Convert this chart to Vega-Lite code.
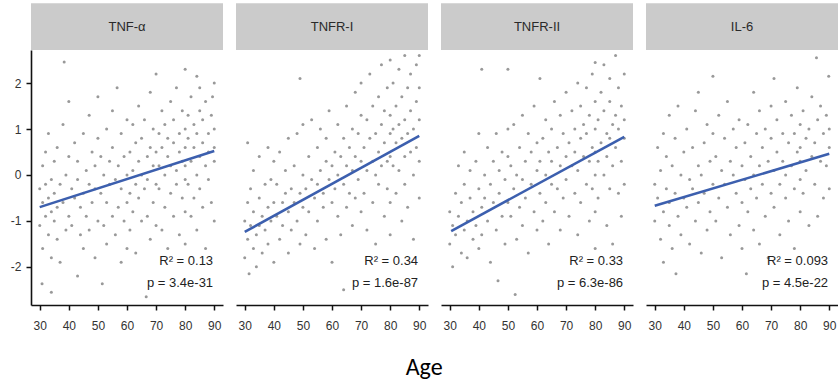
{
"$schema": "https://vega.github.io/schema/vega-lite/v6.json",
"padding": {"left": 10, "top": 3, "right": 0, "bottom": 0},
"background": "white",
"title": {"text": "Age", "orient": "bottom", "anchor": "middle", "font": "Carlito, Lato, Liberation Sans", "fontSize": 24, "fontWeight": "normal", "color": "#000", "offset": 25},
"datasets": {
"all": [
{"g":"TNF-α","k":"H"},{"g":"TNFR-I","k":"H"},{"g":"TNFR-II","k":"H"},{"g":"IL-6","k":"H"},
{"g":"TNF-α","k":"T","r":"R² = 0.13","p":"p = 3.4e-31"},
{"g":"TNFR-I","k":"T","r":"R² = 0.34","p":"p = 1.6e-87"},
{"g":"TNFR-II","k":"T","r":"R² = 0.33","p":"p = 6.3e-86"},
{"g":"IL-6","k":"T","r":"R² = 0.093","p":"p = 4.5e-22"},
{"g":"TNF-α","k":"L","a":30,"v":-0.70},{"g":"TNF-α","k":"L","a":90,"v":0.52},
{"g":"TNFR-I","k":"L","a":30,"v":-1.24},{"g":"TNFR-I","k":"L","a":90,"v":0.85},
{"g":"TNFR-II","k":"L","a":30.5,"v":-1.22},{"g":"TNFR-II","k":"L","a":90,"v":0.83},
{"g":"IL-6","k":"L","a":30,"v":-0.67},{"g":"IL-6","k":"L","a":90,"v":0.46},

{"g":"TNF-α","a":30,"v":-0.3},{"g":"TNF-α","a":30,"v":-1.1},{"g":"TNF-α","a":31,"v":-0.6},{"g":"TNF-α","a":31,"v":0.2},{"g":"TNF-α","a":31,"v":-1.6},{"g":"TNF-α","a":32,"v":-0.9},{"g":"TNF-α","a":32,"v":0.5},{"g":"TNF-α","a":32,"v":-0.2},{"g":"TNF-α","a":33,"v":-1.3},{"g":"TNF-α","a":33,"v":-0.5},{"g":"TNF-α","a":33,"v":0.9},{"g":"TNF-α","a":34,"v":-0.1},{"g":"TNF-α","a":34,"v":-1.8},{"g":"TNF-α","a":34,"v":-0.8},{"g":"TNF-α","a":35,"v":0.3},{"g":"TNF-α","a":35,"v":-1.0},{"g":"TNF-α","a":35,"v":-0.4},{"g":"TNF-α","a":36,"v":-1.4},{"g":"TNF-α","a":36,"v":0.6},{"g":"TNF-α","a":36,"v":-0.7},{"g":"TNF-α","a":37,"v":-0.2},{"g":"TNF-α","a":37,"v":-1.9},{"g":"TNF-α","a":38,"v":1.1},{"g":"TNF-α","a":38,"v":-0.6},{"g":"TNF-α","a":39,"v":-1.2},{"g":"TNF-α","a":39,"v":0.0},{"g":"TNF-α","a":40,"v":-0.9},{"g":"TNF-α","a":40,"v":0.4},{"g":"TNF-α","a":40,"v":1.6},{"g":"TNF-α","a":30.8,"v":-2.37},{"g":"TNF-α","a":34,"v":-2.55},{"g":"TNF-α","a":38.4,"v":2.46},
{"g":"TNF-α","a":41,"v":-0.3},{"g":"TNF-α","a":41,"v":-1.1},{"g":"TNF-α","a":42,"v":0.7},{"g":"TNF-α","a":42,"v":-0.5},{"g":"TNF-α","a":43,"v":-2.2},{"g":"TNF-α","a":43,"v":-0.1},{"g":"TNF-α","a":43,"v":0.3},{"g":"TNF-α","a":44,"v":-1.3},{"g":"TNF-α","a":44,"v":-0.7},{"g":"TNF-α","a":45,"v":0.9},{"g":"TNF-α","a":45,"v":-0.4},{"g":"TNF-α","a":45,"v":-1.6},{"g":"TNF-α","a":46,"v":0.1},{"g":"TNF-α","a":46,"v":-0.9},{"g":"TNF-α","a":47,"v":1.3},{"g":"TNF-α","a":47,"v":-0.2},{"g":"TNF-α","a":47,"v":-1.2},{"g":"TNF-α","a":48,"v":0.5},{"g":"TNF-α","a":48,"v":-0.6},{"g":"TNF-α","a":49,"v":-1.8},{"g":"TNF-α","a":49,"v":-0.3},{"g":"TNF-α","a":49,"v":0.2},{"g":"TNF-α","a":50,"v":-1.0},{"g":"TNF-α","a":50,"v":0.8},{"g":"TNF-α","a":50,"v":1.7},
{"g":"TNF-α","a":51,"v":-0.4},{"g":"TNF-α","a":51,"v":0.4},{"g":"TNF-α","a":51.5,"v":-2.37},{"g":"TNF-α","a":52,"v":-1.1},{"g":"TNF-α","a":52,"v":0.0},{"g":"TNF-α","a":53,"v":1.0},{"g":"TNF-α","a":53,"v":-0.6},{"g":"TNF-α","a":53,"v":-1.5},{"g":"TNF-α","a":54,"v":0.3},{"g":"TNF-α","a":54,"v":-0.2},{"g":"TNF-α","a":55,"v":-0.9},{"g":"TNF-α","a":55,"v":1.4},{"g":"TNF-α","a":55,"v":0.6},{"g":"TNF-α","a":56,"v":-0.1},{"g":"TNF-α","a":56,"v":-1.3},{"g":"TNF-α","a":56.6,"v":1.9},{"g":"TNF-α","a":57,"v":0.2},{"g":"TNF-α","a":57,"v":-0.7},{"g":"TNF-α","a":58,"v":-1.9},{"g":"TNF-α","a":58,"v":0.9},{"g":"TNF-α","a":58,"v":-0.3},{"g":"TNF-α","a":59,"v":0.4},{"g":"TNF-α","a":59,"v":-1.0},{"g":"TNF-α","a":60,"v":0.0},{"g":"TNF-α","a":60,"v":1.2},{"g":"TNF-α","a":60,"v":-0.6},{"g":"TNF-α","a":60,"v":-1.6},
{"g":"TNF-α","a":61,"v":0.5},{"g":"TNF-α","a":61,"v":-0.4},{"g":"TNF-α","a":61,"v":-1.2},{"g":"TNF-α","a":62,"v":0.1},{"g":"TNF-α","a":62,"v":1.1},{"g":"TNF-α","a":62,"v":-0.8},{"g":"TNF-α","a":63,"v":-0.2},{"g":"TNF-α","a":63,"v":0.7},{"g":"TNF-α","a":63,"v":-1.7},{"g":"TNF-α","a":64,"v":0.3},{"g":"TNF-α","a":64,"v":-0.5},{"g":"TNF-α","a":64,"v":1.5},{"g":"TNF-α","a":65,"v":-1.0},{"g":"TNF-α","a":65,"v":0.0},{"g":"TNF-α","a":65,"v":0.8},{"g":"TNF-α","a":66,"v":-0.3},{"g":"TNF-α","a":66,"v":1.2},{"g":"TNF-α","a":66.6,"v":-2.65},{"g":"TNF-α","a":67,"v":0.4},{"g":"TNF-α","a":67,"v":-0.9},{"g":"TNF-α","a":67,"v":-0.1},{"g":"TNF-α","a":68,"v":1.8},{"g":"TNF-α","a":68,"v":0.6},{"g":"TNF-α","a":68,"v":-1.4},{"g":"TNF-α","a":69,"v":0.2},{"g":"TNF-α","a":69,"v":-0.6},{"g":"TNF-α","a":69,"v":1.0},{"g":"TNF-α","a":70,"v":2.2},{"g":"TNF-α","a":70,"v":-0.2},{"g":"TNF-α","a":70,"v":0.5},{"g":"TNF-α","a":70,"v":-1.1},
{"g":"TNF-α","a":71,"v":0.9},{"g":"TNF-α","a":71,"v":-0.3},{"g":"TNF-α","a":71,"v":0.2},{"g":"TNF-α","a":72,"v":-1.2},{"g":"TNF-α","a":72,"v":0.6},{"g":"TNF-α","a":72,"v":1.4},{"g":"TNF-α","a":73,"v":0.0},{"g":"TNF-α","a":73,"v":-0.7},{"g":"TNF-α","a":73,"v":1.1},{"g":"TNF-α","a":74,"v":0.4},{"g":"TNF-α","a":74,"v":-1.6},{"g":"TNF-α","a":74,"v":0.8},{"g":"TNF-α","a":75,"v":1.6},{"g":"TNF-α","a":75,"v":-0.4},{"g":"TNF-α","a":75,"v":0.2},{"g":"TNF-α","a":76,"v":-0.9},{"g":"TNF-α","a":76,"v":0.7},{"g":"TNF-α","a":76,"v":1.2},{"g":"TNF-α","a":77,"v":0.1},{"g":"TNF-α","a":77,"v":-0.2},{"g":"TNF-α","a":77,"v":1.9},{"g":"TNF-α","a":78,"v":0.5},{"g":"TNF-α","a":78,"v":-1.3},{"g":"TNF-α","a":78,"v":0.9},{"g":"TNF-α","a":79,"v":-0.5},{"g":"TNF-α","a":79,"v":1.4},{"g":"TNF-α","a":79,"v":0.3},{"g":"TNF-α","a":80,"v":2.3},{"g":"TNF-α","a":80,"v":-0.1},{"g":"TNF-α","a":80,"v":0.6},{"g":"TNF-α","a":80,"v":1.0},{"g":"TNF-α","a":80,"v":-0.8},{"g":"TNF-α","a":80,"v":-1.5},{"g":"TNF-α","a":80,"v":0.2},
{"g":"TNF-α","a":81,"v":0.8},{"g":"TNF-α","a":81,"v":-0.2},{"g":"TNF-α","a":81,"v":1.3},{"g":"TNF-α","a":82,"v":0.3},{"g":"TNF-α","a":82,"v":-0.9},{"g":"TNF-α","a":82,"v":1.7},{"g":"TNF-α","a":83,"v":0.6},{"g":"TNF-α","a":83,"v":-0.5},{"g":"TNF-α","a":83,"v":1.1},{"g":"TNF-α","a":84,"v":2.15},{"g":"TNF-α","a":84,"v":0.0},{"g":"TNF-α","a":84,"v":0.9},{"g":"TNF-α","a":84,"v":-1.2},{"g":"TNF-α","a":85,"v":1.4},{"g":"TNF-α","a":85,"v":0.4},{"g":"TNF-α","a":85,"v":-0.3},{"g":"TNF-α","a":85,"v":1.9},{"g":"TNF-α","a":86,"v":0.7},{"g":"TNF-α","a":86,"v":-0.7},{"g":"TNF-α","a":86,"v":1.2},{"g":"TNF-α","a":87,"v":0.2},{"g":"TNF-α","a":87,"v":1.6},{"g":"TNF-α","a":87,"v":-1.6},{"g":"TNF-α","a":88,"v":0.9},{"g":"TNF-α","a":88,"v":-0.1},{"g":"TNF-α","a":88,"v":0.5},{"g":"TNF-α","a":89,"v":1.3},{"g":"TNF-α","a":89.4,"v":1.7},{"g":"TNF-α","a":89,"v":-0.6},{"g":"TNF-α","a":90,"v":0.3},{"g":"TNF-α","a":90,"v":1.0},{"g":"TNF-α","a":90,"v":-1.0},{"g":"TNF-α","a":90,"v":2.0},{"g":"TNF-α","a":90,"v":0.6},

{"g":"TNFR-I","a":30,"v":-1.0},{"g":"TNFR-I","a":30,"v":-1.8},{"g":"TNFR-I","a":31,"v":-0.6},{"g":"TNFR-I","a":31,"v":-1.4},{"g":"TNFR-I","a":31.5,"v":-2.15},{"g":"TNFR-I","a":31,"v":0.7},{"g":"TNFR-I","a":32,"v":-1.1},{"g":"TNFR-I","a":32,"v":-0.3},{"g":"TNFR-I","a":33,"v":-1.6},{"g":"TNFR-I","a":33,"v":-0.8},{"g":"TNFR-I","a":33,"v":0.1},{"g":"TNFR-I","a":34,"v":-1.3},{"g":"TNFR-I","a":34,"v":-2.0},{"g":"TNFR-I","a":35,"v":-0.5},{"g":"TNFR-I","a":35,"v":-1.1},{"g":"TNFR-I","a":35,"v":0.4},{"g":"TNFR-I","a":36,"v":-0.9},{"g":"TNFR-I","a":36,"v":-1.7},{"g":"TNFR-I","a":37,"v":-0.2},{"g":"TNFR-I","a":37,"v":-1.2},{"g":"TNFR-I","a":38,"v":-0.7},{"g":"TNFR-I","a":38,"v":0.6},{"g":"TNFR-I","a":38,"v":-1.5},{"g":"TNFR-I","a":39,"v":-1.0},{"g":"TNFR-I","a":39,"v":-0.1},{"g":"TNFR-I","a":40,"v":-0.6},{"g":"TNFR-I","a":40,"v":-1.9},{"g":"TNFR-I","a":40,"v":0.3},
{"g":"TNFR-I","a":41,"v":-0.9},{"g":"TNFR-I","a":41,"v":-0.2},{"g":"TNFR-I","a":42,"v":-1.4},{"g":"TNFR-I","a":42,"v":0.5},{"g":"TNFR-I","a":43,"v":-0.6},{"g":"TNFR-I","a":43,"v":-1.1},{"g":"TNFR-I","a":44,"v":0.1},{"g":"TNFR-I","a":44,"v":-0.4},{"g":"TNFR-I","a":45,"v":-1.7},{"g":"TNFR-I","a":45,"v":-0.8},{"g":"TNFR-I","a":45,"v":0.8},{"g":"TNFR-I","a":46,"v":-0.3},{"g":"TNFR-I","a":46,"v":-1.2},{"g":"TNFR-I","a":47,"v":0.2},{"g":"TNFR-I","a":47,"v":-0.6},{"g":"TNFR-I","a":48,"v":-1.0},{"g":"TNFR-I","a":48,"v":0.9},{"g":"TNFR-I","a":49,"v":2.1},{"g":"TNFR-I","a":49,"v":-0.4},{"g":"TNFR-I","a":49,"v":-1.5},{"g":"TNFR-I","a":50,"v":0.0},{"g":"TNFR-I","a":50,"v":-0.7},{"g":"TNFR-I","a":50,"v":1.1},
{"g":"TNFR-I","a":51,"v":-0.3},{"g":"TNFR-I","a":51,"v":-1.3},{"g":"TNFR-I","a":52,"v":0.4},{"g":"TNFR-I","a":52,"v":-0.8},{"g":"TNFR-I","a":53,"v":-0.1},{"g":"TNFR-I","a":53,"v":1.2},{"g":"TNFR-I","a":54,"v":-0.5},{"g":"TNFR-I","a":54,"v":-1.6},{"g":"TNFR-I","a":55,"v":0.6},{"g":"TNFR-I","a":55,"v":-0.2},{"g":"TNFR-I","a":55,"v":-1.0},{"g":"TNFR-I","a":56,"v":0.1},{"g":"TNFR-I","a":56,"v":1.0},{"g":"TNFR-I","a":57,"v":-0.7},{"g":"TNFR-I","a":57,"v":-0.4},{"g":"TNFR-I","a":58,"v":0.3},{"g":"TNFR-I","a":58,"v":-1.4},{"g":"TNFR-I","a":58,"v":0.8},{"g":"TNFR-I","a":59,"v":-0.1},{"g":"TNFR-I","a":59,"v":1.4},{"g":"TNFR-I","a":60,"v":-0.6},{"g":"TNFR-I","a":60,"v":0.2},{"g":"TNFR-I","a":60,"v":-1.9},
{"g":"TNFR-I","a":61,"v":0.5},{"g":"TNFR-I","a":61,"v":-0.3},{"g":"TNFR-I","a":62,"v":1.1},{"g":"TNFR-I","a":62,"v":-0.9},{"g":"TNFR-I","a":62,"v":0.0},{"g":"TNFR-I","a":63,"v":0.4},{"g":"TNFR-I","a":63,"v":-1.3},{"g":"TNFR-I","a":64,"v":-2.5},{"g":"TNFR-I","a":64,"v":0.8},{"g":"TNFR-I","a":64,"v":-0.2},{"g":"TNFR-I","a":65,"v":1.5},{"g":"TNFR-I","a":65,"v":0.2},{"g":"TNFR-I","a":65,"v":-0.7},{"g":"TNFR-I","a":66,"v":0.6},{"g":"TNFR-I","a":66,"v":-0.4},{"g":"TNFR-I","a":67,"v":1.0},{"g":"TNFR-I","a":67,"v":0.1},{"g":"TNFR-I","a":67,"v":-1.1},{"g":"TNFR-I","a":68,"v":1.8},{"g":"TNFR-I","a":68,"v":0.4},{"g":"TNFR-I","a":68,"v":-0.5},{"g":"TNFR-I","a":69,"v":0.9},{"g":"TNFR-I","a":69,"v":-0.1},{"g":"TNFR-I","a":70,"v":0.3},{"g":"TNFR-I","a":70,"v":1.3},{"g":"TNFR-I","a":70,"v":-0.8},{"g":"TNFR-I","a":70,"v":2.0},
{"g":"TNFR-I","a":71,"v":0.6},{"g":"TNFR-I","a":71,"v":-0.4},{"g":"TNFR-I","a":72,"v":1.2},{"g":"TNFR-I","a":72,"v":0.1},{"g":"TNFR-I","a":72,"v":-1.2},{"g":"TNFR-I","a":73,"v":0.8},{"g":"TNFR-I","a":73,"v":2.2},{"g":"TNFR-I","a":74,"v":0.3},{"g":"TNFR-I","a":74,"v":-0.6},{"g":"TNFR-I","a":74,"v":1.5},{"g":"TNFR-I","a":75,"v":0.0},{"g":"TNFR-I","a":75,"v":0.9},{"g":"TNFR-I","a":75,"v":-1.5},{"g":"TNFR-I","a":76,"v":1.7},{"g":"TNFR-I","a":76,"v":0.5},{"g":"TNFR-I","a":76,"v":-0.2},{"g":"TNFR-I","a":77,"v":1.1},{"g":"TNFR-I","a":77,"v":0.2},{"g":"TNFR-I","a":77,"v":2.4},{"g":"TNFR-I","a":78,"v":-0.9},{"g":"TNFR-I","a":78,"v":0.7},{"g":"TNFR-I","a":78,"v":1.4},{"g":"TNFR-I","a":79,"v":0.3},{"g":"TNFR-I","a":79,"v":-0.3},{"g":"TNFR-I","a":79,"v":1.9},{"g":"TNFR-I","a":80,"v":0.9},{"g":"TNFR-I","a":80,"v":2.5},{"g":"TNFR-I","a":80,"v":-0.6},{"g":"TNFR-I","a":80,"v":0.4},{"g":"TNFR-I","a":80,"v":1.3},{"g":"TNFR-I","a":80,"v":-1.3},
{"g":"TNFR-I","a":81,"v":1.0},{"g":"TNFR-I","a":81,"v":0.2},{"g":"TNFR-I","a":81,"v":2.0},{"g":"TNFR-I","a":82,"v":-0.4},{"g":"TNFR-I","a":82,"v":1.5},{"g":"TNFR-I","a":82,"v":0.7},{"g":"TNFR-I","a":83,"v":2.3},{"g":"TNFR-I","a":83,"v":0.1},{"g":"TNFR-I","a":83,"v":1.1},{"g":"TNFR-I","a":84,"v":-1.0},{"g":"TNFR-I","a":84,"v":0.8},{"g":"TNFR-I","a":84,"v":1.7},{"g":"TNFR-I","a":85,"v":0.4},{"g":"TNFR-I","a":85,"v":2.6},{"g":"TNFR-I","a":85,"v":1.2},{"g":"TNFR-I","a":85,"v":-0.2},{"g":"TNFR-I","a":86,"v":0.9},{"g":"TNFR-I","a":86,"v":1.9},{"g":"TNFR-I","a":86,"v":-0.7},{"g":"TNFR-I","a":87,"v":0.5},{"g":"TNFR-I","a":87,"v":1.4},{"g":"TNFR-I","a":87,"v":2.2},{"g":"TNFR-I","a":88,"v":0.0},{"g":"TNFR-I","a":88,"v":1.0},{"g":"TNFR-I","a":88,"v":-1.4},{"g":"TNFR-I","a":89,"v":1.6},{"g":"TNFR-I","a":89,"v":0.6},{"g":"TNFR-I","a":89,"v":2.4},{"g":"TNFR-I","a":90,"v":0.3},{"g":"TNFR-I","a":90,"v":1.2},{"g":"TNFR-I","a":90,"v":-0.5},{"g":"TNFR-I","a":90,"v":1.9},{"g":"TNFR-I","a":90,"v":2.6},

{"g":"TNFR-II","a":30,"v":-1.5},{"g":"TNFR-II","a":30,"v":-0.8},{"g":"TNFR-II","a":31,"v":-1.1},{"g":"TNFR-II","a":31,"v":-2.0},{"g":"TNFR-II","a":32,"v":-0.4},{"g":"TNFR-II","a":32,"v":-1.3},{"g":"TNFR-II","a":33,"v":-0.9},{"g":"TNFR-II","a":33,"v":0.2},{"g":"TNFR-II","a":34,"v":-1.7},{"g":"TNFR-II","a":34,"v":-0.6},{"g":"TNFR-II","a":35,"v":-1.2},{"g":"TNFR-II","a":35,"v":0.5},{"g":"TNFR-II","a":35,"v":-0.2},{"g":"TNFR-II","a":36,"v":-1.0},{"g":"TNFR-II","a":36,"v":-1.8},{"g":"TNFR-II","a":37,"v":-0.5},{"g":"TNFR-II","a":37,"v":0.1},{"g":"TNFR-II","a":38,"v":-1.4},{"g":"TNFR-II","a":38,"v":-0.8},{"g":"TNFR-II","a":39,"v":0.3},{"g":"TNFR-II","a":39,"v":-1.1},{"g":"TNFR-II","a":40,"v":-0.3},{"g":"TNFR-II","a":40,"v":-1.6},{"g":"TNFR-II","a":40,"v":0.9},
{"g":"TNFR-II","a":41,"v":2.3},{"g":"TNFR-II","a":41,"v":-0.7},{"g":"TNFR-II","a":41,"v":-1.3},{"g":"TNFR-II","a":42,"v":0.0},{"g":"TNFR-II","a":42,"v":-0.5},{"g":"TNFR-II","a":43,"v":-1.0},{"g":"TNFR-II","a":43,"v":0.6},{"g":"TNFR-II","a":44,"v":-1.9},{"g":"TNFR-II","a":44,"v":-0.2},{"g":"TNFR-II","a":45,"v":-0.6},{"g":"TNFR-II","a":45,"v":0.3},{"g":"TNFR-II","a":46,"v":-1.2},{"g":"TNFR-II","a":46,"v":0.9},{"g":"TNFR-II","a":46.6,"v":-2.3},{"g":"TNFR-II","a":47,"v":-0.4},{"g":"TNFR-II","a":47,"v":0.1},{"g":"TNFR-II","a":48,"v":-0.9},{"g":"TNFR-II","a":48,"v":0.5},{"g":"TNFR-II","a":49,"v":-1.5},{"g":"TNFR-II","a":49,"v":-0.1},{"g":"TNFR-II","a":50,"v":2.3},{"g":"TNFR-II","a":50,"v":-0.6},{"g":"TNFR-II","a":50,"v":0.4},{"g":"TNFR-II","a":50,"v":1.0},
{"g":"TNFR-II","a":51,"v":-0.9},{"g":"TNFR-II","a":51,"v":0.2},{"g":"TNFR-II","a":52,"v":-0.3},{"g":"TNFR-II","a":52,"v":1.1},{"g":"TNFR-II","a":52.5,"v":-2.6},{"g":"TNFR-II","a":53,"v":-1.4},{"g":"TNFR-II","a":53,"v":0.0},{"g":"TNFR-II","a":54,"v":0.6},{"g":"TNFR-II","a":54,"v":-0.7},{"g":"TNFR-II","a":55,"v":-0.1},{"g":"TNFR-II","a":55,"v":-1.1},{"g":"TNFR-II","a":55,"v":1.3},{"g":"TNFR-II","a":56,"v":0.3},{"g":"TNFR-II","a":56,"v":-0.5},{"g":"TNFR-II","a":57,"v":0.9},{"g":"TNFR-II","a":57,"v":-1.7},{"g":"TNFR-II","a":58,"v":-0.2},{"g":"TNFR-II","a":58,"v":0.5},{"g":"TNFR-II","a":59,"v":-0.8},{"g":"TNFR-II","a":59,"v":1.5},{"g":"TNFR-II","a":60,"v":0.1},{"g":"TNFR-II","a":60,"v":-1.2},{"g":"TNFR-II","a":60,"v":0.7},
{"g":"TNFR-II","a":61,"v":2.1},{"g":"TNFR-II","a":61,"v":-0.4},{"g":"TNFR-II","a":61,"v":0.3},{"g":"TNFR-II","a":62,"v":-1.0},{"g":"TNFR-II","a":62,"v":0.8},{"g":"TNFR-II","a":63,"v":0.0},{"g":"TNFR-II","a":63,"v":1.2},{"g":"TNFR-II","a":63,"v":-0.6},{"g":"TNFR-II","a":64,"v":0.5},{"g":"TNFR-II","a":64,"v":-1.5},{"g":"TNFR-II","a":65,"v":-0.2},{"g":"TNFR-II","a":65,"v":1.0},{"g":"TNFR-II","a":65,"v":0.3},{"g":"TNFR-II","a":66,"v":1.6},{"g":"TNFR-II","a":66,"v":-0.8},{"g":"TNFR-II","a":67,"v":0.6},{"g":"TNFR-II","a":67,"v":-0.3},{"g":"TNFR-II","a":68,"v":0.2},{"g":"TNFR-II","a":68,"v":1.3},{"g":"TNFR-II","a":68,"v":-1.2},{"g":"TNFR-II","a":69,"v":0.9},{"g":"TNFR-II","a":69,"v":-0.5},{"g":"TNFR-II","a":70,"v":0.4},{"g":"TNFR-II","a":70,"v":1.8},{"g":"TNFR-II","a":70,"v":-0.1},
{"g":"TNFR-II","a":71,"v":0.7},{"g":"TNFR-II","a":71,"v":-0.9},{"g":"TNFR-II","a":72,"v":1.4},{"g":"TNFR-II","a":72,"v":0.2},{"g":"TNFR-II","a":73,"v":-0.4},{"g":"TNFR-II","a":73,"v":1.0},{"g":"TNFR-II","a":73,"v":0.5},{"g":"TNFR-II","a":74,"v":2.0},{"g":"TNFR-II","a":74,"v":-1.3},{"g":"TNFR-II","a":74,"v":0.1},{"g":"TNFR-II","a":75,"v":0.8},{"g":"TNFR-II","a":75,"v":1.5},{"g":"TNFR-II","a":75,"v":-0.6},{"g":"TNFR-II","a":76,"v":0.4},{"g":"TNFR-II","a":76,"v":1.1},{"g":"TNFR-II","a":77,"v":-0.2},{"g":"TNFR-II","a":77,"v":0.9},{"g":"TNFR-II","a":77,"v":1.9},{"g":"TNFR-II","a":78,"v":0.3},{"g":"TNFR-II","a":78,"v":-1.0},{"g":"TNFR-II","a":78,"v":1.3},{"g":"TNFR-II","a":79,"v":0.6},{"g":"TNFR-II","a":79,"v":2.2},{"g":"TNFR-II","a":79,"v":-0.3},{"g":"TNFR-II","a":80,"v":2.45},{"g":"TNFR-II","a":80,"v":0.0},{"g":"TNFR-II","a":80,"v":1.0},{"g":"TNFR-II","a":80,"v":1.6},{"g":"TNFR-II","a":80,"v":-0.8},{"g":"TNFR-II","a":80,"v":0.5},{"g":"TNFR-II","a":80,"v":-1.6},
{"g":"TNFR-II","a":81,"v":1.2},{"g":"TNFR-II","a":81,"v":0.3},{"g":"TNFR-II","a":81,"v":-0.5},{"g":"TNFR-II","a":82,"v":1.8},{"g":"TNFR-II","a":82,"v":0.7},{"g":"TNFR-II","a":83,"v":0.0},{"g":"TNFR-II","a":83,"v":1.4},{"g":"TNFR-II","a":83,"v":2.4},{"g":"TNFR-II","a":84,"v":0.9},{"g":"TNFR-II","a":84,"v":-1.1},{"g":"TNFR-II","a":84,"v":0.4},{"g":"TNFR-II","a":85,"v":1.6},{"g":"TNFR-II","a":85,"v":2.1},{"g":"TNFR-II","a":85,"v":-0.3},{"g":"TNFR-II","a":85,"v":0.8},{"g":"TNFR-II","a":86,"v":1.1},{"g":"TNFR-II","a":86,"v":0.2},{"g":"TNFR-II","a":86,"v":-1.5},{"g":"TNFR-II","a":87,"v":2.6},{"g":"TNFR-II","a":87,"v":0.6},{"g":"TNFR-II","a":87,"v":1.3},{"g":"TNFR-II","a":88,"v":-0.4},{"g":"TNFR-II","a":88,"v":1.0},{"g":"TNFR-II","a":88,"v":1.9},{"g":"TNFR-II","a":89,"v":0.3},{"g":"TNFR-II","a":89,"v":1.5},{"g":"TNFR-II","a":89,"v":-0.9},{"g":"TNFR-II","a":90,"v":0.8},{"g":"TNFR-II","a":90,"v":2.2},{"g":"TNFR-II","a":90,"v":1.2},{"g":"TNFR-II","a":90,"v":-0.2},

{"g":"IL-6","a":30,"v":-0.2},{"g":"IL-6","a":30,"v":-1.0},{"g":"IL-6","a":31,"v":0.6},{"g":"IL-6","a":31,"v":-0.5},{"g":"IL-6","a":32,"v":-1.4},{"g":"IL-6","a":32,"v":0.1},{"g":"IL-6","a":33,"v":-1.9},{"g":"IL-6","a":33,"v":-0.8},{"g":"IL-6","a":33,"v":0.9},{"g":"IL-6","a":34,"v":-0.3},{"g":"IL-6","a":34,"v":0.4},{"g":"IL-6","a":35,"v":-1.1},{"g":"IL-6","a":35,"v":1.3},{"g":"IL-6","a":35,"v":-0.6},{"g":"IL-6","a":36,"v":0.2},{"g":"IL-6","a":36,"v":-1.6},{"g":"IL-6","a":37,"v":-0.4},{"g":"IL-6","a":37,"v":0.8},{"g":"IL-6","a":37.3,"v":-2.15},{"g":"IL-6","a":38,"v":-0.9},{"g":"IL-6","a":38,"v":1.5},{"g":"IL-6","a":39,"v":0.0},{"g":"IL-6","a":39,"v":-1.3},{"g":"IL-6","a":40,"v":-0.5},{"g":"IL-6","a":40,"v":0.5},
{"g":"IL-6","a":41,"v":1.0},{"g":"IL-6","a":41,"v":-0.7},{"g":"IL-6","a":42,"v":-0.1},{"g":"IL-6","a":42,"v":-1.5},{"g":"IL-6","a":43,"v":0.6},{"g":"IL-6","a":43,"v":-0.3},{"g":"IL-6","a":44,"v":1.4},{"g":"IL-6","a":44,"v":-1.0},{"g":"IL-6","a":45,"v":0.2},{"g":"IL-6","a":45,"v":-0.6},{"g":"IL-6","a":45,"v":1.8},{"g":"IL-6","a":46,"v":-1.7},{"g":"IL-6","a":46,"v":0.0},{"g":"IL-6","a":47,"v":0.7},{"g":"IL-6","a":47,"v":-0.4},{"g":"IL-6","a":48,"v":1.1},{"g":"IL-6","a":48,"v":-1.2},{"g":"IL-6","a":49,"v":0.3},{"g":"IL-6","a":49,"v":-0.8},{"g":"IL-6","a":50,"v":2.15},{"g":"IL-6","a":50,"v":-0.2},{"g":"IL-6","a":50,"v":0.9},
{"g":"IL-6","a":51,"v":-1.0},{"g":"IL-6","a":51,"v":0.4},{"g":"IL-6","a":52,"v":1.3},{"g":"IL-6","a":52,"v":-0.5},{"g":"IL-6","a":53,"v":0.1},{"g":"IL-6","a":53,"v":-1.8},{"g":"IL-6","a":54,"v":0.8},{"g":"IL-6","a":54,"v":-0.2},{"g":"IL-6","a":55,"v":-0.7},{"g":"IL-6","a":55,"v":1.6},{"g":"IL-6","a":56,"v":0.3},{"g":"IL-6","a":56,"v":-1.3},{"g":"IL-6","a":57,"v":0.0},{"g":"IL-6","a":57,"v":1.0},{"g":"IL-6","a":58,"v":-0.4},{"g":"IL-6","a":58,"v":0.6},{"g":"IL-6","a":59,"v":-1.1},{"g":"IL-6","a":59,"v":1.2},{"g":"IL-6","a":60,"v":0.2},{"g":"IL-6","a":60,"v":-0.6},{"g":"IL-6","a":60,"v":-1.6},
{"g":"IL-6","a":61,"v":0.7},{"g":"IL-6","a":61,"v":-0.1},{"g":"IL-6","a":61.5,"v":-2.15},{"g":"IL-6","a":62,"v":1.1},{"g":"IL-6","a":62,"v":-0.8},{"g":"IL-6","a":63,"v":0.4},{"g":"IL-6","a":63,"v":-0.3},{"g":"IL-6","a":64,"v":1.8},{"g":"IL-6","a":64,"v":-1.2},{"g":"IL-6","a":64,"v":0.0},{"g":"IL-6","a":65,"v":0.9},{"g":"IL-6","a":65,"v":-0.5},{"g":"IL-6","a":66,"v":0.2},{"g":"IL-6","a":66,"v":1.4},{"g":"IL-6","a":66,"v":-1.5},{"g":"IL-6","a":67,"v":-0.2},{"g":"IL-6","a":67,"v":0.6},{"g":"IL-6","a":68,"v":1.0},{"g":"IL-6","a":68,"v":-0.9},{"g":"IL-6","a":69,"v":0.3},{"g":"IL-6","a":69,"v":-1.8},{"g":"IL-6","a":70,"v":0.8},{"g":"IL-6","a":70,"v":-0.4},{"g":"IL-6","a":70,"v":1.5},
{"g":"IL-6","a":71,"v":2.1},{"g":"IL-6","a":71,"v":0.1},{"g":"IL-6","a":71,"v":-0.7},{"g":"IL-6","a":72,"v":0.5},{"g":"IL-6","a":72,"v":1.2},{"g":"IL-6","a":73,"v":-0.2},{"g":"IL-6","a":73,"v":-1.3},{"g":"IL-6","a":74,"v":0.9},{"g":"IL-6","a":74,"v":0.3},{"g":"IL-6","a":75,"v":-0.5},{"g":"IL-6","a":75,"v":1.6},{"g":"IL-6","a":75,"v":0.0},{"g":"IL-6","a":76,"v":0.7},{"g":"IL-6","a":76,"v":-1.0},{"g":"IL-6","a":77,"v":1.3},{"g":"IL-6","a":77,"v":0.2},{"g":"IL-6","a":78,"v":-0.3},{"g":"IL-6","a":78,"v":0.9},{"g":"IL-6","a":78,"v":-1.6},{"g":"IL-6","a":79,"v":0.5},{"g":"IL-6","a":79,"v":1.9},{"g":"IL-6","a":80,"v":-0.1},{"g":"IL-6","a":80,"v":0.6},{"g":"IL-6","a":80,"v":1.1},{"g":"IL-6","a":80,"v":-0.8},{"g":"IL-6","a":80,"v":0.3},
{"g":"IL-6","a":81,"v":1.4},{"g":"IL-6","a":81,"v":-0.4},{"g":"IL-6","a":82,"v":0.8},{"g":"IL-6","a":82,"v":0.1},{"g":"IL-6","a":83,"v":-1.1},{"g":"IL-6","a":83,"v":1.0},{"g":"IL-6","a":84,"v":0.4},{"g":"IL-6","a":84,"v":1.7},{"g":"IL-6","a":85,"v":-0.2},{"g":"IL-6","a":85,"v":0.7},{"g":"IL-6","a":85.6,"v":2.55},{"g":"IL-6","a":86,"v":1.2},{"g":"IL-6","a":86,"v":-0.9},{"g":"IL-6","a":87,"v":0.3},{"g":"IL-6","a":87,"v":1.5},{"g":"IL-6","a":88,"v":-0.5},{"g":"IL-6","a":88,"v":0.9},{"g":"IL-6","a":89,"v":0.2},{"g":"IL-6","a":89.8,"v":2.15},{"g":"IL-6","a":89,"v":1.3},{"g":"IL-6","a":90,"v":-0.3},{"g":"IL-6","a":90,"v":0.6},{"g":"IL-6","a":90,"v":1.0}
]
},
"data": {"name": "all"},
"facet": {"column": {"field": "g", "type": "nominal", "sort": ["TNF-α", "TNFR-I", "TNFR-II", "IL-6"], "header": {"title": null, "labels": false}}},
"spacing": 13,
"spec": {
"width": 192,
"height": 255,
"layer": [
{"transform": [{"filter": "datum.k == 'H'"}], "mark": {"type": "rect", "color": "#cbcbcb", "clip": false}, "encoding": {"x": {"datum": 27, "type": "quantitative"}, "x2": {"datum": 93}, "y": {"datum": 2.72, "type": "quantitative"}, "y2": {"datum": 3.74}}},
{"transform": [{"filter": "datum.k == 'H'"}], "mark": {"type": "text", "font": "Liberation Sans", "fontSize": 13, "color": "#2a2a2a", "baseline": "middle", "align": "center", "clip": false}, "encoding": {"x": {"datum": 60, "type": "quantitative"}, "y": {"datum": 3.22, "type": "quantitative"}, "text": {"field": "g"}}},
{"transform": [{"filter": "!datum.k"}], "mark": {"type": "circle", "size": 9, "color": "#8e8e8e", "opacity": 0.9}, "encoding": {
  "x": {"field": "a", "type": "quantitative", "scale": {"domain": [27, 93], "nice": false, "zero": false}, "axis": {"values": [30, 40, 50, 60, 70, 80, 90], "title": null, "labelOverlap": false, "labelSeparation": 0, "tickCount": 7}},
  "y": {"field": "v", "type": "quantitative", "scale": {"domain": [-2.83, 2.72], "nice": false, "zero": false}, "axis": {"values": [-2, -1, 0, 1, 2], "title": null, "labelExpr": "datum.value < 0 ? '-' + abs(datum.value) : '' + datum.value"}}}},
{"transform": [{"filter": "datum.k == 'L'"}], "mark": {"type": "line", "color": "#3c5fae", "strokeWidth": 2.6}, "encoding": {"x": {"field": "a", "type": "quantitative"}, "y": {"field": "v", "type": "quantitative"}}},
{"transform": [{"filter": "datum.k == 'T'"}], "mark": {"type": "text", "font": "Liberation Sans", "fontSize": 13, "color": "#222", "align": "right", "baseline": "middle"}, "encoding": {"x": {"datum": 89.6, "type": "quantitative"}, "y": {"datum": -1.87, "type": "quantitative"}, "text": {"field": "r"}}},
{"transform": [{"filter": "datum.k == 'T'"}], "mark": {"type": "text", "font": "Liberation Sans", "fontSize": 13, "color": "#222", "align": "right", "baseline": "middle"}, "encoding": {"x": {"datum": 89.6, "type": "quantitative"}, "y": {"datum": -2.35, "type": "quantitative"}, "text": {"field": "p"}}}
]
},
"config": {
"view": {"stroke": null},
"axis": {"grid": false, "domainColor": "#111", "domainWidth": 1.6, "tickColor": "#111", "tickWidth": 1.5, "tickSize": 5, "labelFont": "Liberation Sans", "labelFontSize": 12, "labelColor": "#333", "labelPadding": 5, "labelOverlap": false},
"axisX": {"labelPadding": 10, "labelOverlap": false, "labelFlush": false, "tickCount": 7}
}
}
